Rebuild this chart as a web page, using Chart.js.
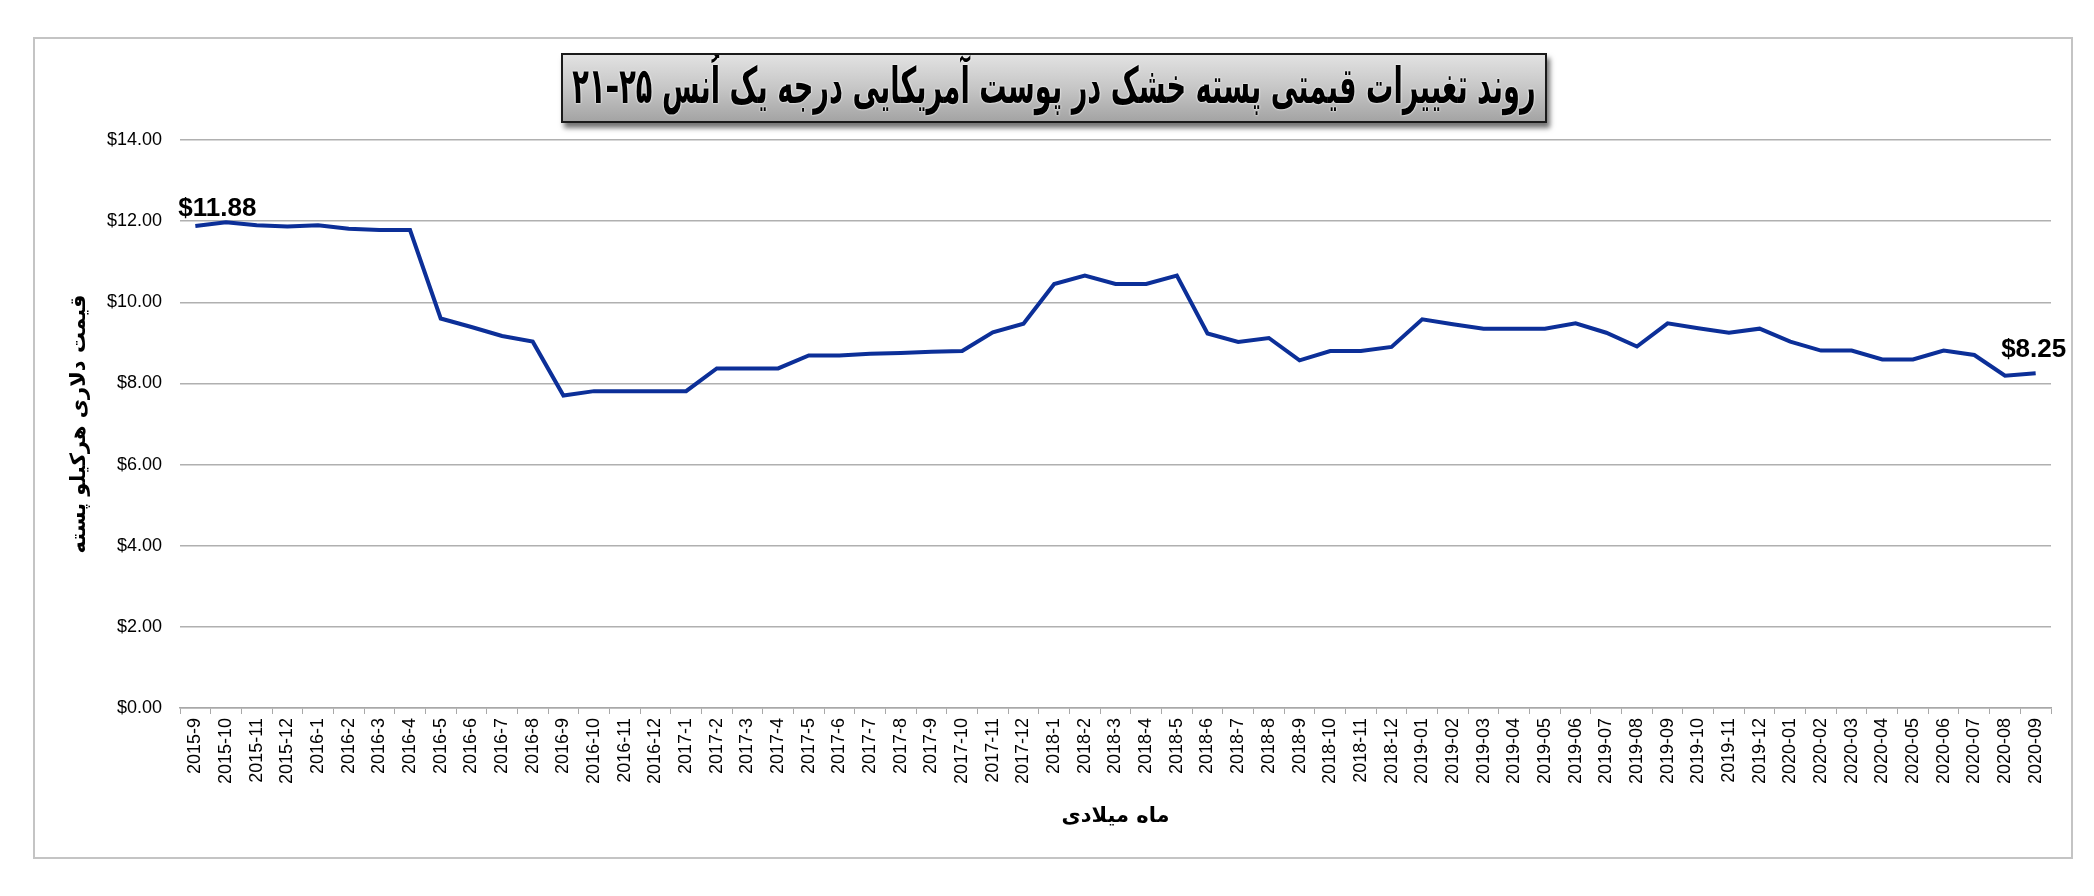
<!DOCTYPE html>
<html lang="fa">
<head>
    <meta charset="UTF-8" />
    <title>روند تغییرات قیمتی پسته</title>
    <script src="https://cdn.jsdelivr.net/npm/chart.js"></script>
    <style>
        html, body { margin: 0; padding: 0; background: #fff; }
        .wrap { position: relative; width: 2094px; height: 896px; }
        .frame { position: absolute; left: 33px; top: 37px; width: 2036px; height: 818px; border: 2px solid #c4c4c4; box-sizing: content-box; }
        .title-box {
            position: absolute; left: 561px; top: 53px; width: 982px; height: 66px;
            border: 2px solid #1a1a1a;
            background: linear-gradient(to bottom, #e2e2e2 0%, #c6c6c6 50%, #a4a4a4 100%);
            box-shadow: 3px 5px 5px rgba(0,0,0,0.55);
            white-space: nowrap; overflow: hidden;
        }
        .title-box span {
            position: absolute; left: 50%; top: 0;
            direction: rtl;
            font-family: 'DejaVu Sans', sans-serif; font-weight: bold; font-size: 50px; line-height: 62px;
            color: #000;
            transform: translateX(-50%) scaleX(0.545);
            text-shadow: 0 0 3px #fff, 0 0 2px #fff;
        }
        canvas { position: absolute; left: 0; top: 0; }
    </style>
</head>
<body>
<div class="wrap">
    <div class="frame"></div>
    <canvas id="priceChart" width="2094" height="896"></canvas>
    <div class="title-box"><span>روند تغییرات قیمتی پسته خشک در پوست آمریکایی درجه یک اُنس ۲۵–۲۱</span></div>
</div>
<script>
    // months (x axis)
    const months = [
        '2015-9', '2015-10', '2015-11', '2015-12',
        '2016-1', '2016-2', '2016-3', '2016-4', '2016-5', '2016-6', '2016-7', '2016-8', '2016-9', '2016-10', '2016-11', '2016-12',
        '2017-1', '2017-2', '2017-3', '2017-4', '2017-5', '2017-6', '2017-7', '2017-8', '2017-9', '2017-10', '2017-11', '2017-12',
        '2018-1', '2018-2', '2018-3', '2018-4', '2018-5', '2018-6', '2018-7', '2018-8', '2018-9', '2018-10', '2018-11', '2018-12',
        '2019-01', '2019-02', '2019-03', '2019-04', '2019-05', '2019-06', '2019-07', '2019-08', '2019-09', '2019-10', '2019-11', '2019-12',
        '2020-01', '2020-02', '2020-03', '2020-04', '2020-05', '2020-06', '2020-07', '2020-08', '2020-09'
    ];

    // dollar price per kg
    const prices = [
        11.88, 11.97, 11.90, 11.87,
        11.90, 11.81, 11.78, 11.78, 9.60, 9.39, 9.17, 9.03, 7.70, 7.81, 7.81, 7.81,
        7.81, 8.37, 8.37, 8.37, 8.69, 8.69, 8.73, 8.75, 8.78, 8.80, 9.26, 9.47,
        10.45, 10.66, 10.45, 10.45, 10.66, 9.23, 9.02, 9.12, 8.57, 8.80, 8.80, 8.90,
        9.58, 9.46, 9.35, 9.35, 9.35, 9.48, 9.25, 8.91, 9.48, 9.36, 9.25, 9.35,
        9.03, 8.81, 8.81, 8.59, 8.59, 8.81, 8.70, 8.19, 8.25
    ];

    const yTicks = [0, 2, 4, 6, 8, 10, 12, 14];
    const labeledPoints = [0, 60];   // first and last value get a label

    const yTitle = 'قیمت دلاری هرکیلو پسته';
    const xTitle = 'ماه میلادی';

    // draws "$11.88" / "$8.25" next to the points
    const valueLabels = {
        id: 'valueLabels',
        afterDatasetsDraw(chart) {
            const meta = chart.getDatasetMeta(0);
            const ctx = chart.ctx;
            ctx.save();
            ctx.fillStyle = '#000';
            ctx.font = 'bold 26px "Liberation Sans", Arial, sans-serif';
            ctx.textBaseline = 'alphabetic';
            labeledPoints.forEach(function (i) {
                const pt = meta.data[i];
                const txt = '$' + prices[i].toFixed(2);
                if (i === 0) {
                    ctx.textAlign = 'left';
                    ctx.fillText(txt, pt.x - 17, pt.y - 10);
                } else {
                    ctx.textAlign = 'center';
                    ctx.fillText(txt, pt.x - 2, pt.y - 16);
                }
            });
            ctx.restore();
        }
    };

    const ctx = document.getElementById('priceChart').getContext('2d');
    new Chart(ctx, {
        type: 'line',
        data: {
            labels: months,
            datasets: [{
                data: prices,
                borderColor: '#0c2f98',
                borderWidth: 4,
                pointRadius: 0,
                tension: 0,
                fill: false
            }]
        },
        options: {
            responsive: false,
            animation: false,
            devicePixelRatio: 1,
            layout: { padding: { top: 140, left: 35, right: 43, bottom: 60 } },
            plugins: {
                legend: { display: false },
                title: { display: false },
                tooltip: { enabled: false }
            },
            scales: {
                x: {
                    offset: true,
                    grid: { offset: true, drawOnChartArea: false, drawTicks: true, tickLength: 6, color: '#a8a8a8', lineWidth: 1 },
                    border: { display: true, color: '#a8a8a8', width: 1.5 },
                    ticks: {
                        color: '#000',
                        autoSkip: false,
                        minRotation: 90,
                        maxRotation: 90,
                        padding: 4,
                        font: { family: '"Liberation Sans", Arial, sans-serif', size: 18 }
                    },
                    title: {
                        display: true,
                        text: xTitle,
                        color: '#000',
                        font: { family: '"DejaVu Sans", sans-serif', size: 21, weight: 'bold' },
                        padding: { top: 4, bottom: 7 }
                    },
                    afterFit(scale) { scale.height = 128; }
                },
                y: {
                    min: 0,
                    max: 14,
                    afterBuildTicks(scale) { scale.ticks = yTicks.map(v => ({ value: v })); },
                    grid: { drawTicks: false, color: '#b0b0b0', lineWidth: 1.5 },
                    border: { display: false },
                    ticks: {
                        color: '#000',
                        padding: 18,
                        font: { family: '"Liberation Sans", Arial, sans-serif', size: 18 },
                        callback: v => '$' + Number(v).toFixed(2)
                    },
                    title: {
                        display: true,
                        text: yTitle,
                        color: '#000',
                        font: { family: '"DejaVu Sans", sans-serif', size: 21, weight: 'bold' },
                        padding: { top: 32, bottom: 4 }
                    },
                    afterFit(scale) { scale.width = 145; }
                }
            }
        },
        plugins: [valueLabels]
    });
</script>
</body>
</html>
